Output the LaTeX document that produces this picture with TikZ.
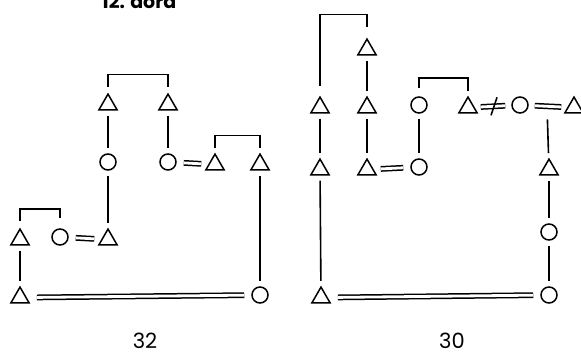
\documentclass[tikz,border=0pt]{standalone}
\usepackage{fontspec}
\setmainfont{Poppins}
\usetikzlibrary{shapes.geometric,calc}
\tikzset{
  x=1pt,y=-1pt,
  ln/.style={line width=1.6pt},
  male/.style={regular polygon,regular polygon sides=3,draw,line width=1.5pt,minimum size=21pt,inner sep=0pt,yshift=-2.6pt},
  fem/.style={circle,draw,line width=1.5pt,minimum size=16pt,inner sep=0pt},
  desc/.style={ln,shorten <=5pt,shorten >=5pt},
  marr/.style={double,line width=1.5pt,double distance=2.8pt,shorten <=7pt,shorten >=7pt},
  lbl/.style={font=\fontsize{21}{21}\selectfont,anchor=base,inner sep=0pt,text depth=0pt}
}
\begin{document}
\begin{tikzpicture}
\useasboundingbox (0,0) rectangle (581,352);
\node[lbl,font=\fontsize{19}{19}\selectfont\bfseries] (title) at (139,9) {12. aora};
% ---------- left panel ----------
\node[male] (a) at (108,102) {};
\node[male] (b) at (168,102) {};
\node[fem] (c) at (108,162) {};
\node[fem] (d) at (168,162) {};
\node[male] (e) at (215,162) {};
\node[male] (f) at (260,162) {};
\node[male] (g) at (20,237) {};
\node[fem] (h) at (60,237) {};
\node[male] (i) at (108,237) {};
\node[male] (j) at (20,295) {};
\node[fem] (k) at (260,295) {};
\node[lbl] (n32) at (145,349) {32};
% brackets
\draw[ln] ($(a)+(0,-18)$) |- ($(a)!0.5!(b)+(0,-30)$) -| ($(b)+(0,-18)$);
\draw[ln] ($(e)+(0,-17)$) |- ($(e)!0.5!(f)+(0,-29)$) -| ($(f)+(0,-17)$);
\draw[ln] ($(g)+(0,-19)$) |- ($(g)!0.5!(h)+(0,-29)$) -| ($(h)+(0,-19)$);
% descent
\draw[desc] (a) -- (c);
\draw[desc] (b) -- (d);
\draw[desc] (c) -- (i);
\draw[desc] (g) -- (j);
\draw[desc] (f) -- (k);
% marriages
\draw[marr] (d) -- (e);
\draw[marr] (h) -- (i);
\draw[marr,shorten <=10pt,shorten >=7pt] (j) -- (k);
% ---------- right panel ----------
\node[male] (A) at (320,105) {};
\node[male] (B) at (367,47) {};
\node[male] (C) at (367,105) {};
\node[fem] (D) at (419,105) {};
\node[male] (E) at (468,105) {};
\node[fem] (F) at (520,105) {};
\node[male] (G) at (574,105) {};
\node[male] (H) at (320,167) {};
\node[male] (I) at (367,167) {};
\node[fem] (J) at (419,167) {};
\node[male] (K) at (549,167) {};
\node[fem] (L) at (549,232) {};
\node[fem] (M) at (549,295) {};
\node[male] (N) at (321,295) {};
\node[lbl] (n30) at (452,349) {30};
% brackets
\draw[ln] ($(A)+(0,-22)$) |- ($(B)+(0,-35)$) -- ($(B)+(0,-23)$);
\draw[ln] ($(D)+(0,-17)$) |- ($(D)!0.5!(E)+(0,-28)$) -| ($(E)+(0,-17)$);
% descent
\draw[desc] (B) -- (C);
\draw[desc] (A) -- (H);
\draw[desc] (C) -- (I);
\draw[desc] (D) -- (J);
\draw[desc] (H) -- (N);
\draw[desc] (K) -- (L);
\draw[desc] (L) -- (M);
\coordinate (FG) at ($(F)!0.5!(G)$);
\draw[desc,shorten <=13pt] (FG) -- (K);
% marriages
\draw[marr] (I) -- (J);
\draw[marr,shorten <=6pt,shorten >=6pt] (F) -- (G);
\draw[marr,shorten <=6pt,shorten >=6pt] (E) -- (F);
\draw[ln] ($(E)!0.5!(F)+(-3,9)$) -- ($(E)!0.5!(F)+(3,-9)$);
\draw[marr,shorten <=10pt,shorten >=7pt] (N) -- (M);
\end{tikzpicture}
\end{document}
